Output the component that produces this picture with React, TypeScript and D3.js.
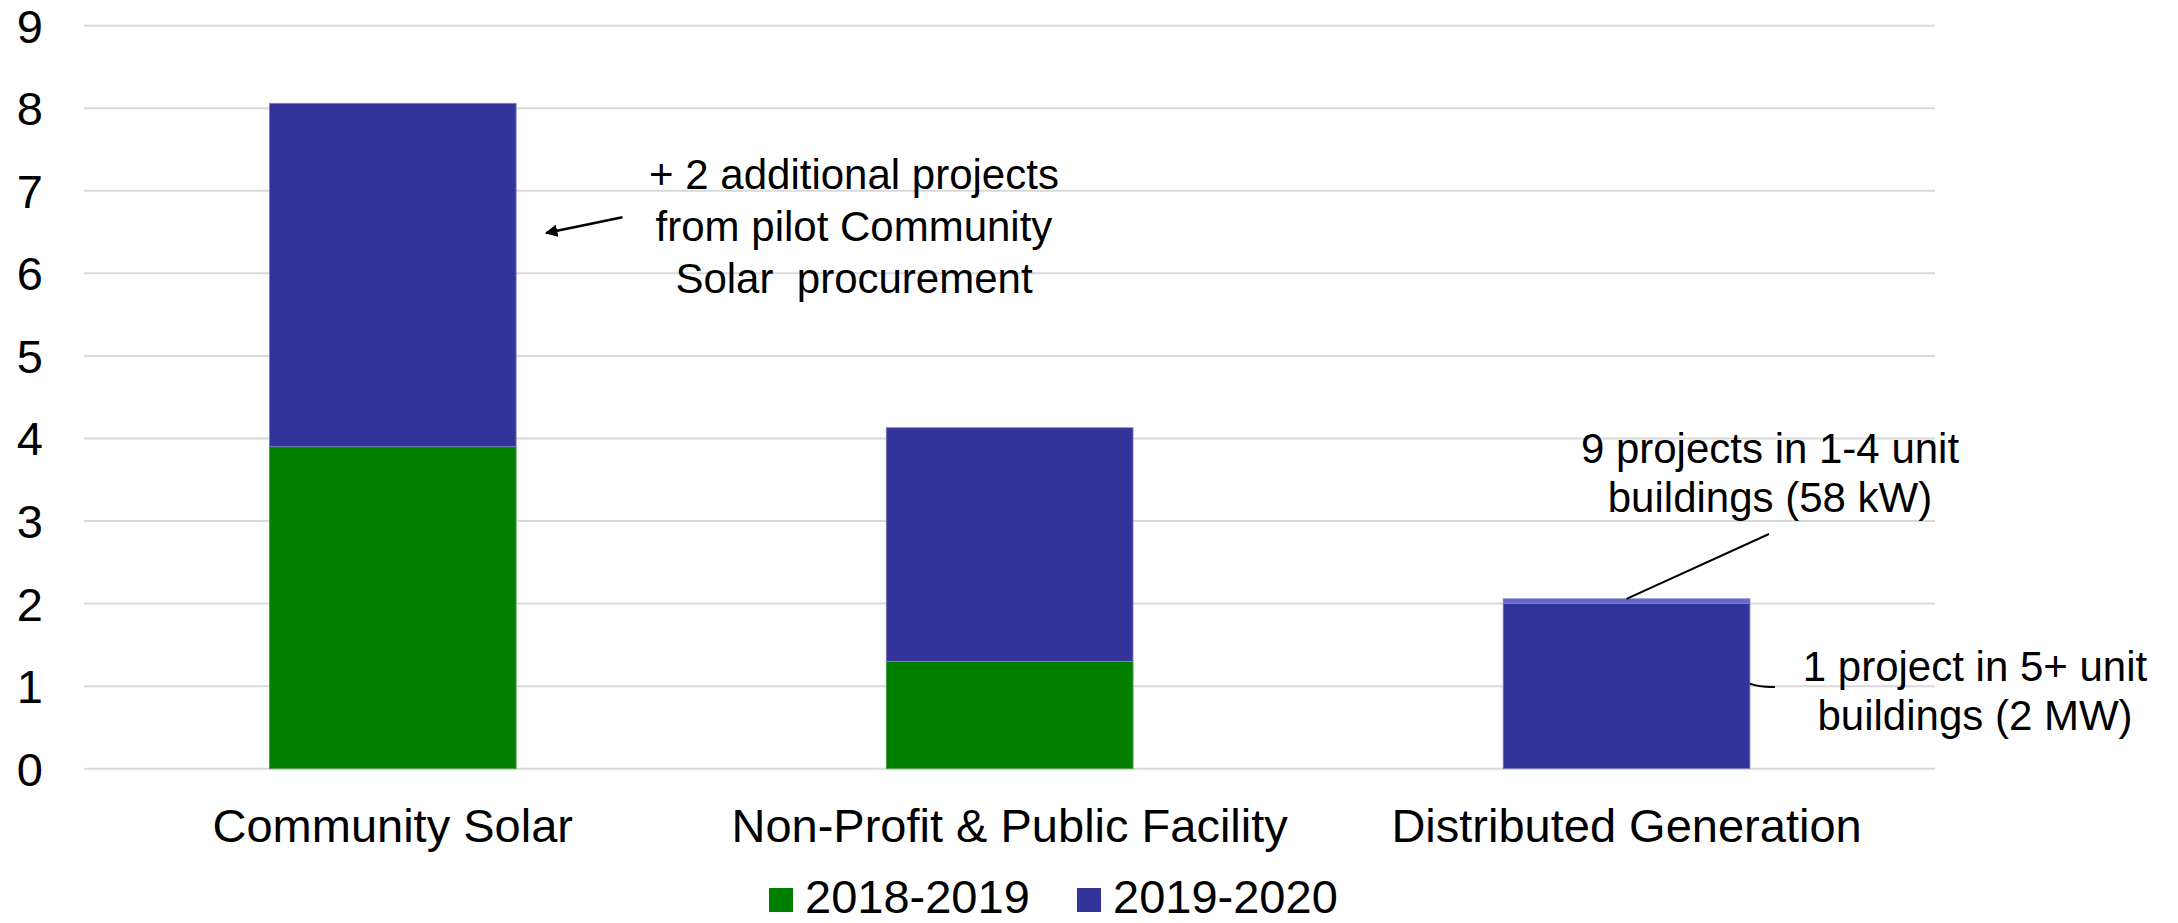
import React from "react";
import * as d3 from "d3";

const categories = ["Community Solar", "Non-Profit & Public Facility", "Distributed Generation"];
const series2018 = [3.9, 1.3, 0];
const series2019 = [4.16, 2.83, 2.0];
const series2019Small = [0, 0, 0.058];
const yTicks = [0, 1, 2, 3, 4, 5, 6, 7, 8, 9];
const legendLabels = ["2018-2019", "2019-2020"];
const annoCS = ["+ 2 additional projects", "from pilot Community", "Solar  procurement"];
const annoDGsmall = ["9 projects in 1-4 unit", "buildings (58 kW)"];
const annoDGlarge = ["1 project in 5+ unit", "buildings (2 MW)"];

const W = 2178;
const H = 923;
const FONT = "'Liberation Sans', Arial, Helvetica, sans-serif";
const COLORS = ["#017f01", "#333399", "#6666cc"];

export default function App() {
  const keys = ["s2018", "s2019", "s2019small"];
  const rows = categories.map((c, i) => ({
    cat: c,
    s2018: series2018[i],
    s2019: series2019[i],
    s2019small: series2019Small[i],
  }));
  const stacked = d3.stack<any>().keys(keys)(rows);

  const x = d3
    .scaleBand<string>()
    .domain(categories)
    .range([84.3, 1935])
    .paddingInner(0.6)
    .paddingOuter(0.3);
  const y = d3.scaleLinear().domain([0, 9]).range([768.7, 25.7]);
  const bw = x.bandwidth();

  const csRight = (x(categories[0]) as number) + bw;
  const dgX = x(categories[2]) as number;
  const dgCenter = dgX + bw / 2;
  const dgTop = y(series2019[2] + series2019Small[2]);

  return (
    <svg
      width={W}
      height={H}
      style={{ position: "absolute", left: 0, top: 0, background: "#fff" }}
      fontFamily={FONT}
    >
      <defs>
        <marker
          id="arrow"
          viewBox="0 0 10 10"
          refX="9"
          refY="5"
          markerWidth="5"
          markerHeight="5"
          orient="auto-start-reverse"
          markerUnits="strokeWidth"
        >
          <path d="M0,0 L10,5 L0,10 z" fill="#000" />
        </marker>
      </defs>
      <rect x={0} y={0} width={W} height={H} fill="#fff" />
      {yTicks.map((t) => (
        <line
          key={"g" + t}
          x1={84.3}
          x2={1935}
          y1={y(t)}
          y2={y(t)}
          stroke="#d9d9d9"
          strokeWidth={2}
        />
      ))}
      {yTicks.map((t) => (
        <text
          key={"t" + t}
          x={43}
          y={y(t) + 17}
          textAnchor="end"
          fontSize={47}
          fill="#000"
        >
          {t}
        </text>
      ))}
      {stacked.map((layer, li) => (
        <g key={layer.key} fill={COLORS[li]}>
          {layer.map((d, i) =>
            d[1] - d[0] > 0 ? (
              <rect
                key={i}
                x={x(categories[i])}
                width={bw}
                y={y(d[1])}
                height={y(d[0]) - y(d[1])}
                stroke={li === 0 ? "#4a9f4a" : "#7f7fc4"}
                strokeWidth={0.8}
              />
            ) : null
          )}
        </g>
      ))}
      {categories.map((c) => (
        <text
          key={c}
          x={(x(c) as number) + bw / 2}
          y={842}
          textAnchor="middle"
          fontSize={47}
          fill="#000"
        >
          {c}
        </text>
      ))}
      <text fontSize={42} textAnchor="middle" fill="#000">
        {annoCS.map((l, i) => (
          <tspan key={i} x={854} y={189 + i * 52} style={{ whiteSpace: "pre" }}>
            {l}
          </tspan>
        ))}
      </text>
      <line
        x1={622.5}
        y1={y(6.68)}
        x2={csRight + 30}
        y2={y(6.49)}
        stroke="#000"
        strokeWidth={2.5}
        markerEnd="url(#arrow)"
      />
      <text fontSize={42} textAnchor="middle" fill="#000">
        {annoDGsmall.map((l, i) => (
          <tspan key={i} x={1770} y={463 + i * 49}>
            {l}
          </tspan>
        ))}
      </text>
      <line x1={1769} y1={534} x2={dgCenter} y2={dgTop} stroke="#000" strokeWidth={2} />
      <text fontSize={42} textAnchor="middle" fill="#000">
        {annoDGlarge.map((l, i) => (
          <tspan key={i} x={1975} y={681 + i * 49}>
            {l}
          </tspan>
        ))}
      </text>
      <path
        d={`M${dgX + bw},${y(1.03)} Q${dgX + bw + 10},${y(0.985)} ${dgX + bw + 25},${y(0.99)}`}
        fill="none"
        stroke="#000"
        strokeWidth={2}
      />
      {legendLabels.map((l, i) => {
        const lx = [769, 1077][i];
        return (
          <g key={l}>
            <rect x={lx} y={888} width={24} height={24} fill={COLORS[i]} />
            <text x={lx + 36} y={913} fontSize={47} fill="#000">
              {l}
            </text>
          </g>
        );
      })}
    </svg>
  );
}
